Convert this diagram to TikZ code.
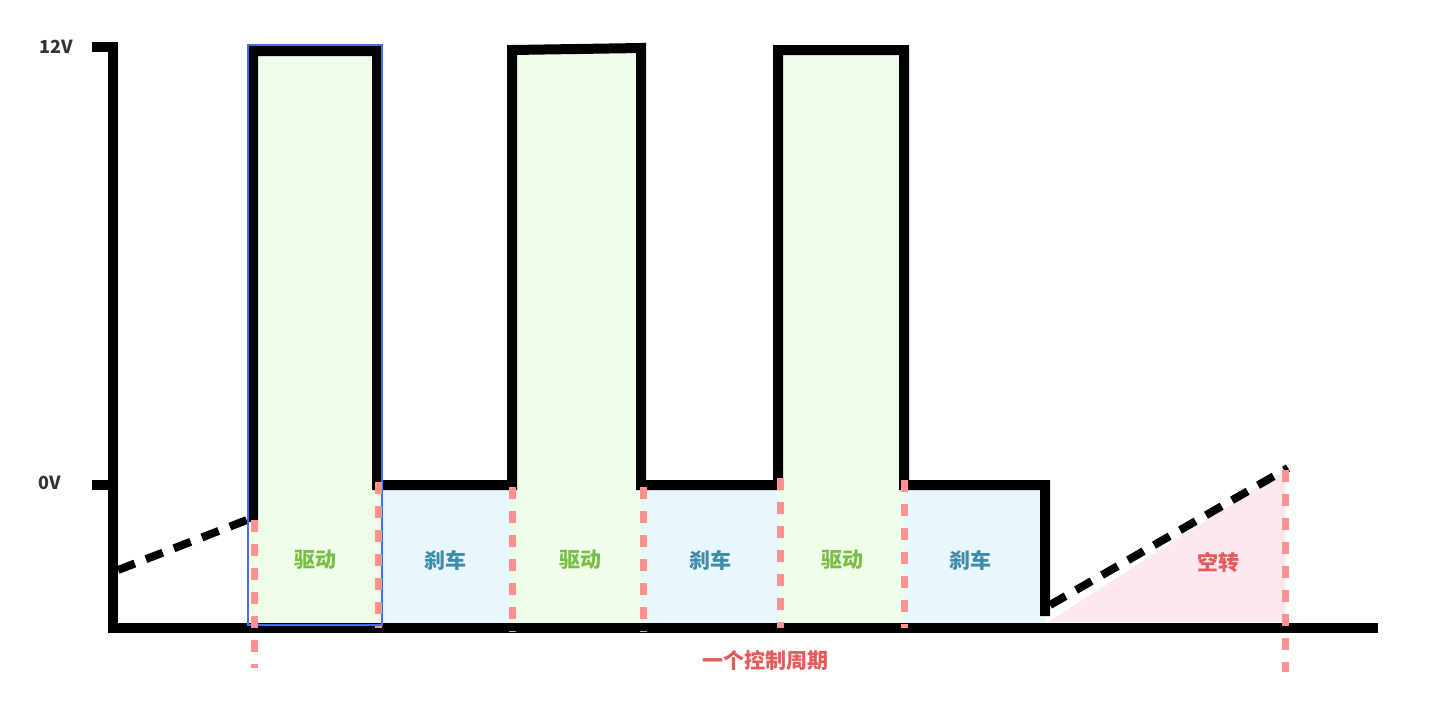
\documentclass[tikz,border=0pt]{standalone}
\usepackage{fontspec}
\newfontfamily\cjk{Noto Sans CJK SC}
\definecolor{DriveGreen}{RGB}{240, 253, 232}
\definecolor{BrakeBlue}{RGB}{232, 247, 252}
\definecolor{CoastPink}{RGB}{253, 232, 240}
\definecolor{DriveText}{RGB}{120, 190, 70}
\definecolor{BrakeText}{RGB}{60, 140, 170}
\definecolor{CoastText}{RGB}{230, 90, 90}
\definecolor{MarkPink}{RGB}{255, 145, 145}
\definecolor{FrameBlue}{RGB}{70, 110, 230}

\begin{document}
\begin{tikzpicture}[x=0.5pt,y=-0.5pt,
    wave/.style={line width=5pt, line join=miter},
    slope/.style={line width=4pt, dash pattern=on 9pt off 6pt},
    marker/.style={MarkPink, line width=3.5pt, dash pattern=on 6pt off 6pt},
    phase/.style={font=\cjk\bfseries\fontsize{10.5}{12}\selectfont},
    level/.style={font=\cjk\bfseries\fontsize{9}{11}\selectfont, text=black!80}]
    \useasboundingbox (0,0) rectangle (1440,719);

    % phase fills
    \foreach \a/\b in {252/378, 512/641, 778/904}
        \fill[DriveGreen] (\a,50) rectangle (\b,625);
    \foreach \a/\b in {378/512, 641/778, 904/1045}
        \fill[BrakeBlue] (\a,485) rectangle (\b,625);
    \fill[CoastPink] (1048,622) -- (1285,470) -- (1285,622) -- cycle;

    % axes
    \draw[wave] (92,47) -- (113,47) -- (113,628) -- (1378,628);
    \draw[wave] (92,485) -- (113,485);
    \node[level, left] (v12) at (80,47) {12V};
    \node[level, left] (v0) at (68,483) {0V};

    % waveform
    \draw[wave] (253,522) -- (253,51) -- (377,51) -- (377,485) -- (512,485)
        -- (512,50) -- (641,48) -- (641,485) -- (778,485) -- (778,50)
        -- (904,50) -- (904,485) -- (1045,485) -- (1045,616);
    \draw[slope] (118,570) -- (252,518);
    \draw[slope] (1050,605) -- (1288,468);
    \draw[FrameBlue, line width=1pt] (248,45) rectangle (382,625);

    % phase borders
    \foreach \x/\t/\b in {254/520/668, 378/482/628, 512/487/632, 643/487/632,
                          780/478/628, 904/480/628, 1285/470/672}
        \draw[marker] (\x,\t) -- (\x,\b);

    % labels
    \foreach \x/\n in {315/d1, 580/d2, 842/d3}
        \node[phase, text=DriveText] (\n) at (\x,560) {驱动};
    \foreach \x/\n in {445/b1, 710/b2, 970/b3}
        \node[phase, text=BrakeText] (\n) at (\x,560) {刹车};
    \node[phase, text=CoastText] (coast) at (1218,562) {空转};
    \node[phase, text=CoastText] (period) at (765,660) {一个控制周期};
\end{tikzpicture}
\end{document}
